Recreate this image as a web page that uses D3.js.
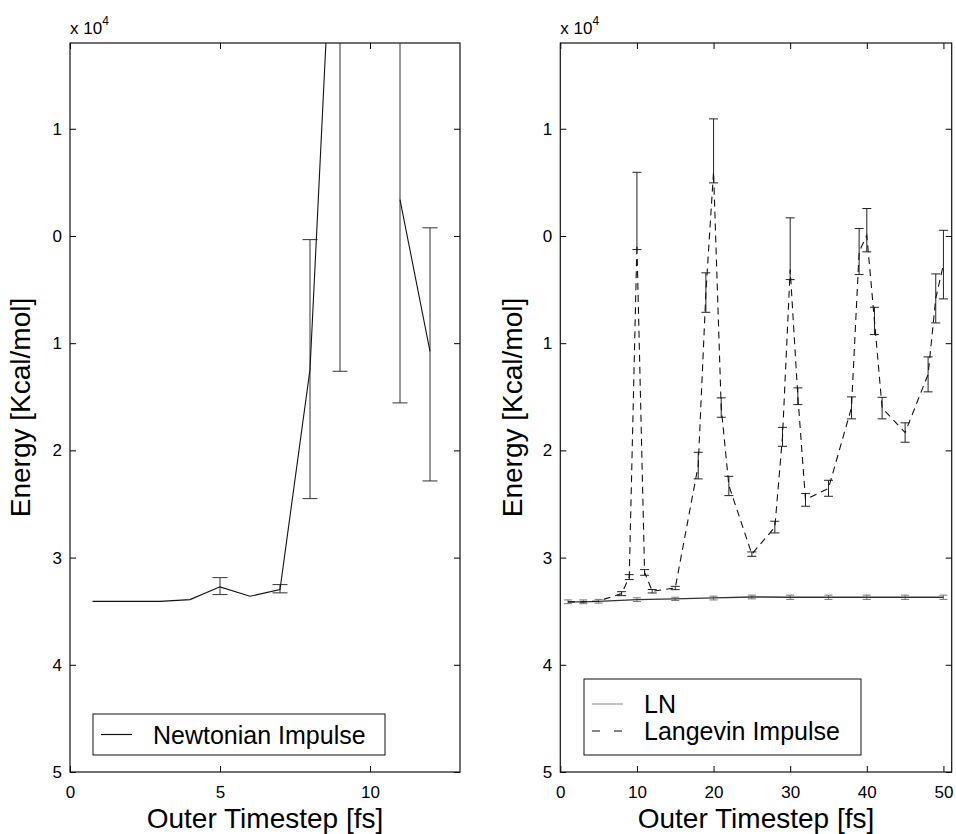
<!DOCTYPE html>
<html>
<head>
<meta charset="utf-8">
<script src="https://cdn.jsdelivr.net/npm/d3@7"></script>
<style>
    body { margin: 0; background: #fff; }
    svg text { font-family: "Liberation Sans", Arial, Helvetica, sans-serif; fill: #000; }
</style>
</head>
<body>
<div id="chart"></div>
<script>
// energies in units of 1e4 Kcal/mol
var yTicks = [1, 0, -1, -2, -3, -4, -5],
    yTickLabels = ["1", "0", "1", "2", "3", "4", "5"];

// left panel: Newtonian impulse (null = no point)
var newtonX = [0.75, 2, 3, 4, 5, 6, 7, 8, 9, 10, 11, 12],
    newtonE = [-3.408, -3.408, -3.408, -3.392, -3.273, -3.361, -3.298, -1.246, 4.5, null, 0.340, -1.076],
    newtonLo = [null, null, null, null, -3.345, null, -3.329, -2.450, -1.262, null, -1.557, -2.285],
    newtonHi = [null, null, null, null, -3.187, null, -3.252, -0.034, 10.3, null, 2.24, 0.076],
    leftXTicks = [0, 5, 10];

// right panel: LN
var lnX = [1, 3, 5, 10, 15, 20, 25, 30, 35, 40, 45, 50],
    lnE = [-3.413, -3.413, -3.408, -3.392, -3.385, -3.376, -3.367, -3.370, -3.370, -3.370, -3.370, -3.370],
    lnLo = [-3.43, -3.43, -3.425, -3.41, -3.40, -3.395, -3.385, -3.39, -3.39, -3.39, -3.39, -3.39],
    lnHi = [-3.395, -3.395, -3.39, -3.375, -3.37, -3.36, -3.35, -3.35, -3.35, -3.35, -3.35, -3.35];

// right panel: Langevin impulse
var langX = [1, 3, 5, 8, 9, 10, 11, 12, 15, 18, 19, 20, 21, 22, 25, 28, 29, 30, 31, 32, 35, 38, 39, 40, 41, 42, 45, 48, 49, 50],
    langE = [-3.413, -3.413, -3.405, -3.336, -3.182, -0.08, -3.138, -3.314, -3.283, -2.142, -0.528, 0.60, -1.601, -2.328, -2.967,
        -2.716, -1.871, -0.313, -1.495, -2.459, -2.354, -1.601, -0.146, 0.004, -0.789, -1.605, -1.834, -1.291, -0.582, -0.267],
    langLo = [null, null, null, -3.355, -3.205, -0.127, -3.165, -3.330, -3.299, -2.266, -0.712, 0.495, -1.691, -2.422, -2.988,
        -2.770, -1.962, -0.407, -1.573, -2.521, -2.428, -1.706, -0.360, -0.148, -0.920, -1.706, -1.924, -1.454, -0.811, -0.587],
    langHi = [null, null, null, -3.318, -3.159, 0.594, -3.112, -3.298, -3.268, -2.018, -0.344, 1.092, -1.510, -2.242, -2.947,
        -2.661, -1.785, 0.169, -1.417, -2.403, -2.279, -1.501, 0.069, 0.256, -0.665, -1.505, -1.743, -1.128, -0.354, 0.053],
    rightXTicks = [0, 10, 20, 30, 40, 50];

var W = 956,
    H = 834,
    plotTop = 43,
    plotBottom = 772,
    yDomain = [-5, 1.8],
    font = "\"Liberation Sans\", Arial, Helvetica, sans-serif";

var svg = d3.select("#chart")
    .append("svg")
    .attr("width", W)
    .attr("height", H);

function zip(xs, es, los, his) {
    return xs.map(function (x, i) {
        return { x: x, e: es[i], lo: los ? los[i] : null, hi: his ? his[i] : null };
    });
}

function drawPanel(o) {
    var x = d3.scaleLinear().domain(o.xDomain).range([o.left, o.right]),
        y = d3.scaleLinear().domain(yDomain).range([plotBottom, plotTop]),
        g = svg.append("g"),
        clipId = "clip-" + o.id;

    svg.append("clipPath")
        .attr("id", clipId)
        .append("rect")
        .attr("x", o.left)
        .attr("y", plotTop)
        .attr("width", o.right - o.left)
        .attr("height", plotBottom - plotTop);

    // axes, ticks point inwards on all four sides
    var yFmt = function (d) { return yTickLabels[yTicks.indexOf(d)]; };

    g.append("g")
        .attr("transform", "translate(" + o.left + ",0)")
        .call(d3.axisLeft(y).tickValues(yTicks).tickFormat(yFmt).tickSizeInner(-6).tickSizeOuter(0).tickPadding(8));
    g.append("g")
        .attr("transform", "translate(" + o.right + ",0)")
        .call(d3.axisRight(y).tickValues(yTicks).tickFormat("").tickSizeInner(-6).tickSizeOuter(0));
    g.append("g")
        .attr("transform", "translate(0," + plotTop + ")")
        .call(d3.axisTop(x).tickValues(o.xTicks).tickFormat("").tickSizeInner(-6).tickSizeOuter(0));
    g.append("g")
        .attr("transform", "translate(0," + plotBottom + ")")
        .call(d3.axisBottom(x).tickValues(o.xTicks).tickSizeInner(-6).tickSizeOuter(0).tickPadding(14));

    g.selectAll(".domain").remove();
    g.selectAll(".tick line").attr("stroke", "#000");
    g.selectAll(".tick text").attr("font-size", 17).attr("font-family", font);

    g.append("rect")
        .attr("x", o.left)
        .attr("y", plotTop)
        .attr("width", o.right - o.left)
        .attr("height", plotBottom - plotTop)
        .attr("fill", "none")
        .attr("stroke", "#111")
        .attr("stroke-width", 1.2);

    // x 10^4
    var exp = g.append("text")
        .attr("x", o.left)
        .attr("y", 34)
        .attr("font-size", 17);
    exp.append("tspan").text("x 10");
    exp.append("tspan").attr("font-size", 12).attr("dy", -9).text("4");

    // titles
    g.append("text")
        .attr("transform", "translate(" + o.yTitleX + ",407.5) rotate(-90)")
        .attr("text-anchor", "middle")
        .attr("font-size", 28)
        .text("Energy [Kcal/mol]");
    g.append("text")
        .attr("x", (o.left + o.right) / 2)
        .attr("y", 828)
        .attr("text-anchor", "middle")
        .attr("font-size", 28)
        .text("Outer Timestep [fs]");

    var plot = g.append("g").attr("clip-path", "url(#" + clipId + ")");

    o.series.forEach(function (s) {
        var bars = s.data.filter(function (d) { return d.lo !== null && d.hi !== null; }),
            eb = plot.append("g")
                .attr("stroke", s.barColor)
                .attr("stroke-width", 1)
                .selectAll("g")
                .data(bars)
                .enter()
                .append("g");

        eb.append("line")
            .attr("x1", function (d) { return x(d.x); })
            .attr("x2", function (d) { return x(d.x); })
            .attr("y1", function (d) { return y(d.lo); })
            .attr("y2", function (d) { return y(d.hi); });
        eb.append("line")
            .attr("x1", function (d) { return x(d.x) - s.cap; })
            .attr("x2", function (d) { return x(d.x) + s.cap; })
            .attr("y1", function (d) { return y(d.lo); })
            .attr("y2", function (d) { return y(d.lo); });
        eb.append("line")
            .attr("x1", function (d) { return x(d.x) - s.cap; })
            .attr("x2", function (d) { return x(d.x) + s.cap; })
            .attr("y1", function (d) { return y(d.hi); })
            .attr("y2", function (d) { return y(d.hi); });

        plot.append("path")
            .datum(s.data)
            .attr("fill", "none")
            .attr("stroke", s.color)
            .attr("stroke-width", s.width)
            .attr("stroke-dasharray", s.dash || null)
            .attr("d", d3.line()
                .defined(function (d) { return d.e !== null; })
                .x(function (d) { return x(d.x); })
                .y(function (d) { return y(d.e); }));
    });

    // legend
    var lg = g.append("g");
    lg.append("rect")
        .attr("x", o.legend.x)
        .attr("y", o.legend.y)
        .attr("width", o.legend.w)
        .attr("height", o.legend.h)
        .attr("fill", "#fff")
        .attr("stroke", "#111")
        .attr("stroke-width", 1);

    o.legend.items.forEach(function (it, i) {
        var cy = o.legend.firstY + i * 27;
        lg.append("line")
            .attr("x1", o.legend.x + 8)
            .attr("x2", o.legend.x + 39)
            .attr("y1", cy)
            .attr("y2", cy)
            .attr("stroke", it.color)
            .attr("stroke-width", 1.2)
            .attr("stroke-dasharray", it.dash || null);
        lg.append("text")
            .attr("x", o.legend.x + o.legend.textDx)
            .attr("y", cy + 9)
            .attr("font-size", 25)
            .text(it.label);
    });
}

drawPanel({
    id: "left",
    left: 70,
    right: 460,
    xDomain: [0, 13],
    xTicks: leftXTicks,
    yTitleX: 30,
    series: [
        { data: zip(newtonX, newtonE, newtonLo, newtonHi), color: "#111", width: 1.1, barColor: "#333", cap: 7.5 }
    ],
    legend: {
        x: 93, y: 714, w: 292, h: 41, firstY: 734.5, textDx: 60,
        items: [{ label: "Newtonian Impulse", color: "#111" }]
    }
});

drawPanel({
    id: "right",
    left: 560.3,
    right: 951.7,
    xDomain: [0, 51.08],
    xTicks: rightXTicks,
    yTitleX: 522,
    series: [
        { data: zip(lnX, lnE, lnLo, lnHi), color: "#333", width: 1.4, barColor: "#777", cap: 4 },
        { data: zip(langX, langE, langLo, langHi), color: "#111", width: 1.1, dash: "7,5", barColor: "#222", cap: 4.5 }
    ],
    legend: {
        x: 584, y: 679, w: 277, h: 76, firstY: 704, textDx: 60,
        items: [
            { label: "LN", color: "#999" },
            { label: "Langevin Impulse", color: "#111", dash: "8,14" }
        ]
    }
});
</script>
</body>
</html>
